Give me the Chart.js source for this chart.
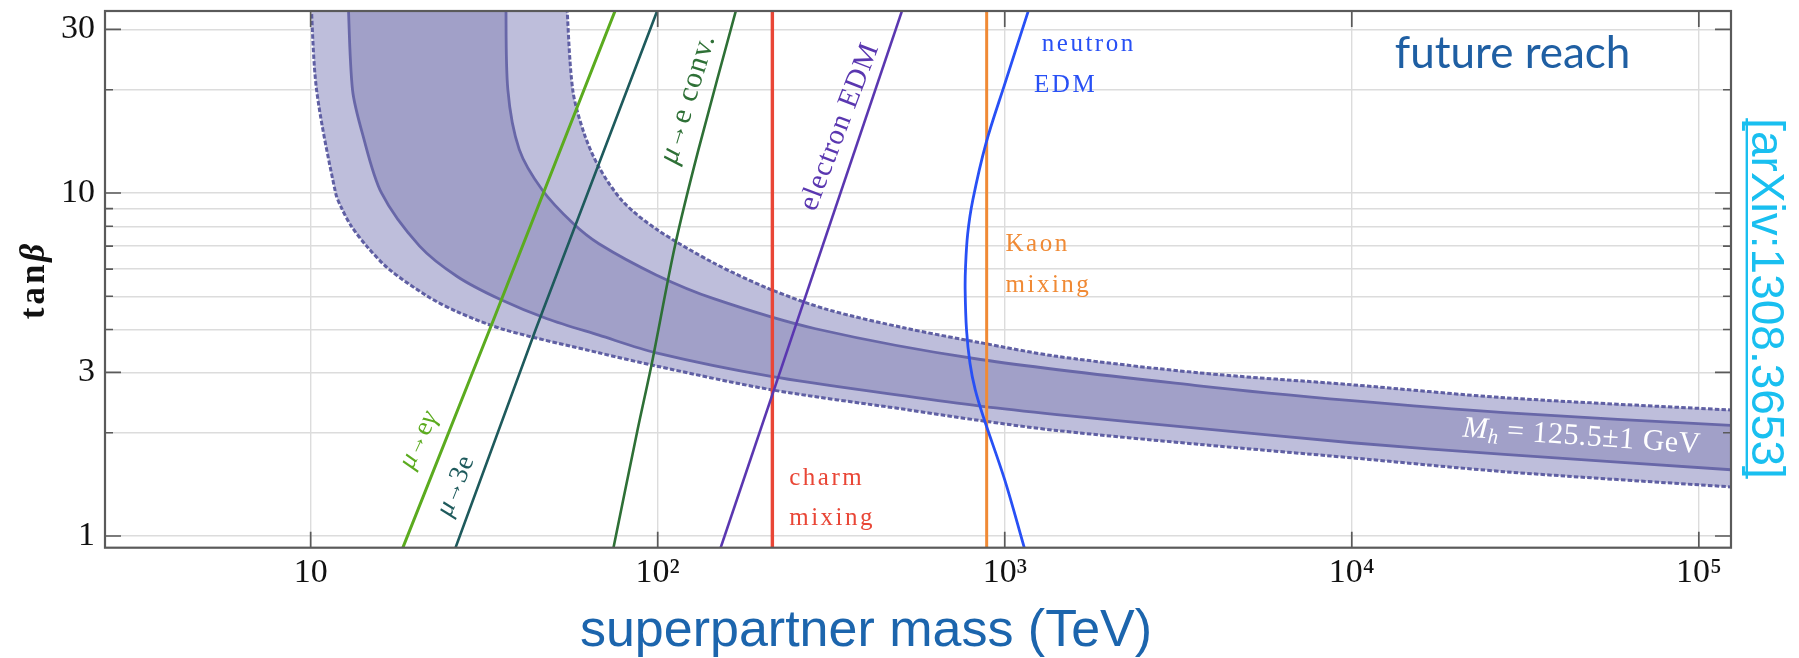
<!DOCTYPE html>
<html>
<head>
<meta charset="utf-8">
<title>tanβ reach vs superpartner mass</title>
<script src="https://cdn.jsdelivr.net/npm/chart.js@4.4.1/dist/chart.umd.min.js"></script>
<style>
  html, body { margin: 0; padding: 0; background: #fff; }
  canvas { display: block; }
</style>
</head>
<body>
<canvas id="reach" width="1799" height="658"></canvas>
<script>
// ticks on the two log axes
const xTicks = [10, 100, 1000, 1e4, 1e5];
const xTickLabels = ['10', '10²', '10³', '10⁴', '10⁵'];
const yTicks = [1, 2, 3, 4, 5, 6, 7, 8, 9, 10, 20, 30];
const yLabelled = [1, 3, 10, 30];

// Higgs mass band, outer edges (dashed)
const outerLoMass = [10.0, 10.4, 11.8, 12.3, 13.1, 14.5, 16.8, 21.7, 26.5, 36, 67.7, 99, 212, 515, 851, 1413, 3630, 1e4, 2.75e4, 1.24e5, 1.6e5];
const outerLoTan  = [38, 20, 10, 9, 8, 7, 6, 5, 4.5, 4.0, 3.42, 3.13, 2.67, 2.34, 2.17, 2.03, 1.85, 1.69, 1.54, 1.39, 1.37];
const outerHiMass = [54.5, 56.9, 61.4, 67.7, 79.4, 99, 145, 212, 309, 515, 851, 1413, 3630, 1e4, 2.75e4, 1.24e5, 1.6e5];
const outerHiTan  = [38, 20, 14.9, 11.9, 9.44, 7.85, 6.25, 5.23, 4.57, 4.04, 3.66, 3.34, 2.99, 2.76, 2.53, 2.33, 2.31];

// Higgs mass band, inner edges (solid)
const innerLoMass = [12.8, 13.2, 14.1, 16.0, 20.6, 26.5, 35.1, 48, 67.7, 99, 212, 515, 851, 1413, 3630, 1e4, 2.75e4, 1.24e5, 1.6e5];
const innerLoTan  = [38, 20, 14.9, 10, 7.0, 5.7, 4.9, 4.3, 3.85, 3.42, 2.92, 2.56, 2.39, 2.26, 2.06, 1.87, 1.73, 1.56, 1.54];
const innerHiMass = [36.5, 37, 39.9, 46.5, 56.9, 67.7, 99, 145, 285, 851, 3630, 1e4, 2.75e4, 1.24e5, 1.6e5];
const innerHiTan  = [38, 20, 13.4, 10.2, 8.17, 7.11, 5.77, 4.92, 4.02, 3.27, 2.74, 2.48, 2.29, 2.10, 2.08];

// future sensitivity lines
const megMass = [18.4, 32.8, 75.4];
const megTan  = [0.92, 4.0, 34];
const m3eMass = [26.1, 44.5, 99.7];
const m3eTan  = [0.92, 4.0, 34];
const mecMass = [74.5, 87.5, 96.2, 112, 131, 168];
const mecTan  = [0.92, 2.04, 3.19, 6.97, 13.35, 34];
const charmMass = [214, 214];
const charmTan  = [0.92, 34];
const eedmMass = [151.6, 506];
const eedmTan  = [0.92, 34];
const kaonMass = [887, 887];
const kaonTan  = [0.92, 34];
const nedmMass = [1140, 1000, 867, 822, 794, 776, 769, 771, 782, 809, 883, 1002, 1170];
const nedmTan  = [0.92, 1.457, 2.23, 2.67, 3.19, 3.99, 5.21, 6.1, 7.6, 9.54, 13.96, 20.9, 34];

const serif = "'Liberation Serif', 'Times New Roman', serif";
const sans = "'Liberation Sans', Arial, sans-serif";

const pts = (ms, ts) => ms.map((m, i) => ({ x: m, y: ts[i] }));
// closed outline: lower edge out to the right, upper edge back to the top
const band = (loM, loT, hiM, hiT) => pts(loM, loT).concat(pts(hiM, hiT).reverse());

function line(ms, ts, color, width, order, tension) {
  return { data: pts(ms, ts), borderColor: color, borderWidth: width, fill: false, tension: tension || 0, order: order };
}

// text made of runs with different fonts, centred on (x, y) and rotated
function drawRuns(ctx, runs, x, y, deg, spacing, color) {
  ctx.save();
  ctx.translate(x, y);
  ctx.rotate(deg * Math.PI / 180);
  ctx.letterSpacing = (spacing || 0) + 'px';
  ctx.fillStyle = color;
  ctx.textBaseline = 'middle';
  ctx.textAlign = 'left';
  let w = 0;
  for (const r of runs) { ctx.font = r[1]; w += ctx.measureText(r[0]).width; }
  let cx = -w / 2;
  for (const r of runs) {
    ctx.font = r[1];
    ctx.fillText(r[0], cx, r[2] || 0);
    cx += ctx.measureText(r[0]).width;
  }
  ctx.restore();
}

function drawText(ctx, text, x, y, font, color, spacing) {
  ctx.save();
  ctx.font = font;
  ctx.fillStyle = color;
  ctx.letterSpacing = (spacing || 0) + 'px';
  ctx.textAlign = 'left';
  ctx.textBaseline = 'alphabetic';
  ctx.fillText(text, x, y);
  ctx.restore();
}

const f = (size, italic, bold) => (italic ? 'italic ' : '') + (bold ? 'bold ' : '') + size + 'px ' + serif;

// frame with inward ticks
const frame = {
  id: 'frame',
  afterDatasetsDraw(chart) {
    const { ctx, chartArea: a, scales: { x, y } } = chart;
    ctx.save();
    ctx.strokeStyle = '#5a5a5a';
    ctx.lineWidth = 1.7;
    ctx.beginPath();
    yTicks.forEach(v => {
      const py = y.getPixelForValue(v);
      const len = yLabelled.includes(v) ? 16 : 8;
      ctx.moveTo(a.left, py); ctx.lineTo(a.left + len, py);
      ctx.moveTo(a.right, py); ctx.lineTo(a.right - len, py);
    });
    xTicks.forEach(v => {
      const px = x.getPixelForValue(v);
      ctx.moveTo(px, a.bottom); ctx.lineTo(px, a.bottom - 16);
      ctx.moveTo(px, a.top); ctx.lineTo(px, a.top + 16);
    });
    ctx.stroke();
    ctx.lineWidth = 2.2;
    ctx.strokeRect(a.left, a.top, a.right - a.left, a.bottom - a.top);
    ctx.restore();
  }
};

// curve labels, axis titles and the reference tag
const notes = {
  id: 'notes',
  afterDraw(chart) {
    const { ctx, scales: { x, y } } = chart;
    const px = m => x.getPixelForValue(m);
    const py = t => y.getPixelForValue(t);

    drawRuns(ctx, [['μ', f(27, true)], ['→', f(22)], ['e', f(27)], ['γ', f(27, true)]], px(20.5), py(1.905), -65, 0.5, '#5bab1f');
    drawRuns(ctx, [['μ', f(27, true)], ['→', f(22)], ['3e', f(27)]], px(26.2), py(1.399), -68, 0.5, '#1e5a5c');
    drawRuns(ctx, [['μ', f(30, true)], ['→', f(25)], ['e conv.', f(30)]], px(122.2), py(18.8), -73, 1, '#2e7036');
    drawRuns(ctx, [['electron EDM', f(29)]], px(335), py(15.6), -69, 1, '#5a37b0');

    drawText(ctx, 'neutron', px(1279), py(26.0), f(25), '#2850f5', 2.5);
    drawText(ctx, 'EDM', px(1215), py(19.66), f(25), '#2850f5', 2.5);
    drawText(ctx, 'Kaon', px(1005), py(6.79), f(25), '#f08a35', 2.5);
    drawText(ctx, 'mixing', px(1005), py(5.13), f(25), '#f08a35', 2.5);
    drawText(ctx, 'charm', px(239.3), py(1.408), f(25), '#e94636', 2.5);
    drawText(ctx, 'mixing', px(239.3), py(1.077), f(25), '#e94636', 2.5);

    drawRuns(ctx, [['M', f(30, true)], ['h', f(21, true), 7], [' = 125.5±1 GeV', f(30)]], px(45990), py(1.944), 4, 0.5, '#ffffff');

    drawText(ctx, 'future reach', px(13300), py(23.1), '44px Lato, ' + sans, '#1f5fa3', 0);

    // axis titles
    drawRuns(ctx, [['tan', f(35, false, true)], ['β', f(35, true, true)]], 34.5, 280, -90, 3, '#111');
    ctx.save();
    ctx.font = '52px ' + sans;
    ctx.fillStyle = '#1c65ad';
    ctx.textAlign = 'center';
    ctx.textBaseline = 'alphabetic';
    ctx.fillText('superpartner mass (TeV)', 866, 646);
    ctx.restore();

    // reference tag running down the right edge
    ctx.save();
    ctx.translate(1752, 298.5);
    ctx.rotate(Math.PI / 2);
    ctx.font = '46px ' + sans;
    ctx.fillStyle = '#19bff0';
    ctx.textAlign = 'center';
    ctx.textBaseline = 'alphabetic';
    const tag = '[arXiv:1308.3653]';
    const tw = ctx.measureText(tag).width;
    ctx.fillText(tag, 0, 0);
    ctx.fillRect(-tw / 2, 4, tw, 2.4);
    ctx.restore();
  }
};

new Chart(document.getElementById('reach'), {
  type: 'line',
  data: {
    datasets: [
      { data: band(outerLoMass, outerLoTan, outerHiMass, outerHiTan), fill: 'shape', backgroundColor: '#bebedb',
        borderColor: '#5f5fa3', borderWidth: 3, borderDash: [4.5, 2.2], tension: 0.3, order: 20 },
      { data: band(innerLoMass, innerLoTan, innerHiMass, innerHiTan), fill: 'shape', backgroundColor: '#a1a0c8',
        borderColor: '#6867a8', borderWidth: 2.8, tension: 0.3, order: 19 },
      line(megMass, megTan, '#5bab1f', 3, 7),
      line(m3eMass, m3eTan, '#1e5a5c', 2.6, 6),
      line(mecMass, mecTan, '#2e7036', 2.6, 5, 0.3),
      line(charmMass, charmTan, '#e94636', 3.4, 4),
      line(eedmMass, eedmTan, '#5a37b0', 2.6, 3),
      line(kaonMass, kaonTan, '#f08a35', 3, 2),
      line(nedmMass, nedmTan, '#2850f5', 2.8, 1, 0.35)
    ]
  },
  options: {
    responsive: false,
    devicePixelRatio: 1,
    animation: false,
    events: [],
    layout: { padding: { left: 0, right: 68, top: 11, bottom: 0 } },
    elements: {
      point: { radius: 0 },
      line: { capBezierPoints: false, borderCapStyle: 'butt' }
    },
    plugins: { legend: { display: false }, tooltip: { enabled: false } },
    scales: {
      x: {
        type: 'logarithmic',
        min: 2.555,
        max: 1.238e5,
        afterBuildTicks: s => { s.ticks = xTicks.map(v => ({ value: v })); },
        // fixed band height, and no extra room for edge labels
        afterFit: s => { s.height = 110.3; s.paddingLeft = 0; s.paddingRight = 0; },
        ticks: {
          autoSkip: false, maxRotation: 0, padding: 5, color: '#111',
          font: { family: serif, size: 34 },
          callback: v => { const i = xTicks.indexOf(v); return i < 0 ? '' : xTickLabels[i]; }
        },
        grid: { color: '#dcdcdc', lineWidth: 1.4, drawTicks: false },
        border: { display: false }
      },
      y: {
        type: 'logarithmic',
        min: 0.9244,
        max: 33.93,
        afterBuildTicks: s => { s.ticks = yTicks.map(v => ({ value: v })); },
        afterFit: s => { s.width = 105; s.paddingTop = 0; s.paddingBottom = 0; },
        ticks: {
          autoSkip: false, padding: 10, color: '#111',
          font: { family: serif, size: 34 },
          callback: v => yLabelled.includes(v) ? String(v) : ''
        },
        grid: { color: '#dcdcdc', lineWidth: 1.4, drawTicks: false },
        border: { display: false }
      }
    }
  },
  plugins: [frame, notes]
});
</script>
</body>
</html>
